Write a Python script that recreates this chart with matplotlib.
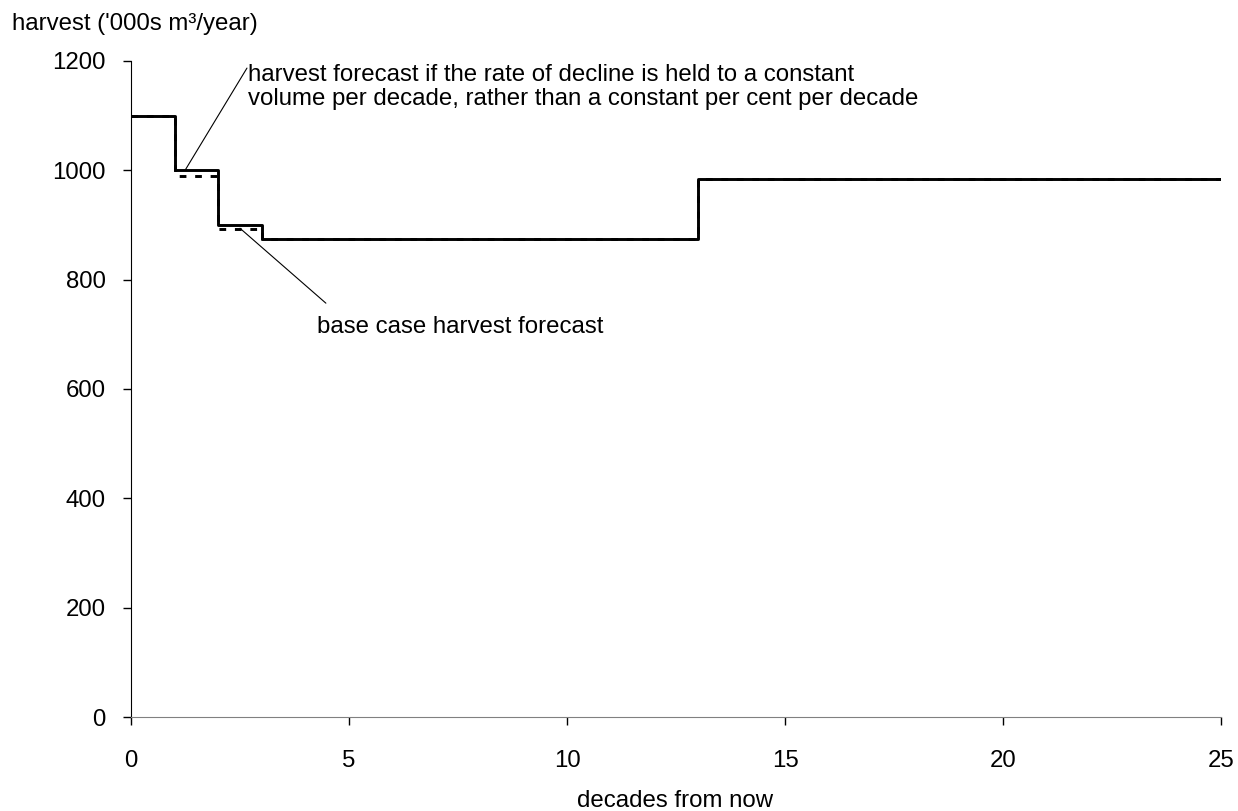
import matplotlib
matplotlib.use("Agg")
import matplotlib.pyplot as plt

plt.rcParams['font.family'] = ['Liberation Sans', 'DejaVu Sans']

decades = [0, 1, 2, 3, 13, 25]
base_case = [1100, 1000, 900, 875, 985, 985]
constant_volume = [1100, 990, 892, 875, 985, 985]

FS = 17.3

fig = plt.figure(figsize=(12.38, 8.11), dpi=100)
ax = fig.add_axes([0.1058, 0.1159, 0.8805, 0.8089])

ax.step(decades, base_case, where='post', color='black', lw=2.1, zorder=3)
ax.step(decades, constant_volume, where='post', color='black', lw=2.1,
        linestyle=(0, (2.3, 3.0)), zorder=4)

ax.set_xlim(0, 25)
ax.set_ylim(0, 1200)
ax.set_xticks([0, 5, 10, 15, 20, 25])
ax.set_yticks([0, 200, 400, 600, 800, 1000, 1200])

for s in ['top', 'right']:
    ax.spines[s].set_visible(False)
ax.spines['left'].set_color('black')
ax.spines['bottom'].set_color('#808080')
ax.tick_params(axis='both', direction='out', length=6, width=1, labelsize=FS)
ax.tick_params(axis='y', pad=12)
ax.tick_params(axis='x', pad=18)

fig.text(12 / 1238, 1 - 24 / 811, "harvest ('000s m³/year)", fontsize=FS,
         ha='left', va='center')
fig.text(0.545, 1 - 801 / 811, "decades from now", fontsize=FS,
         ha='center', va='center')

# annotation 1
ax.annotate("", xy=(1.24, 1000), xytext=(2.66, 1187),
            arrowprops=dict(arrowstyle='-', color='black', lw=0.8,
                            shrinkA=0, shrinkB=0))
ax.text(2.68, 1152,
        "harvest forecast if the rate of decline is held to a constant\n"
        "volume per decade, rather than a constant per cent per decade",
        fontsize=FS, ha='left', va='center', linespacing=1.12)

# annotation 2
ax.annotate("", xy=(2.5, 894), xytext=(4.47, 757),
            arrowprops=dict(arrowstyle='-', color='black', lw=0.8,
                            shrinkA=0, shrinkB=0))
ax.text(4.27, 713, "base case harvest forecast", fontsize=FS,
        ha='left', va='center')

fig.savefig("out.png", dpi=100)
